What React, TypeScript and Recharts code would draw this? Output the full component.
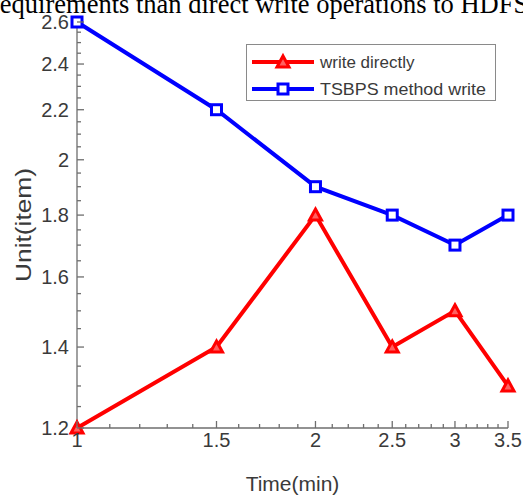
import { LineChart, Line, XAxis, YAxis, Legend } from "recharts";

const times = [1, 1.5, 2, 2.5, 3, 3.5];
const writeDirectly = [1.2, 1.4, 1.8, 1.4, 1.5, 1.3];
const tsbpsWrite = [2.6, 2.2, 1.9, 1.8, 1.7, 1.8];

const xMajor = [1, 1.5, 2, 2.5, 3, 3.5];
const xMinor = [1.1, 1.2, 1.3, 1.4, 1.6, 1.7, 1.8, 1.9, 2.1, 2.2, 2.3, 2.4, 2.6, 2.7, 2.8, 2.9, 3.1, 3.2, 3.3, 3.4];
const yMajor = [1.2, 1.4, 1.6, 1.8, 2, 2.2, 2.4, 2.6];
const yMinor = [1.25, 1.3, 1.35, 1.45, 1.5, 1.55, 1.65, 1.7, 1.75, 1.85, 1.9, 1.95, 2.05, 2.1, 2.15, 2.25, 2.3, 2.35, 2.45, 2.5, 2.55];

const xTicks = [...xMajor, ...xMinor].sort((a, b) => a - b);
const yTicks = [...yMajor, ...yMinor].sort((a, b) => a - b);

const data = times.map((t, i) => ({
  time: t,
  direct: writeDirectly[i],
  tsbps: tsbpsWrite[i],
}));

const AXIS = "#6e6e6e";
const TEXT = "#3a3a3a";
const RED = "#ff0000";
const BLUE = "#0000ff";
const FONT = "'Liberation Sans', Arial, sans-serif";

// eslint-disable-next-line @typescript-eslint/no-explicit-any
function BottomTick({ x, y, payload }: any) {
  const major = xMajor.includes(payload.value);
  return (
    <g>
      <line x1={x} x2={x} y1={y} y2={y - (major ? 7 : 4)} stroke={AXIS} strokeWidth={1.3} />
      {major && (
        <text x={x} y={y + 19} textAnchor="middle" fontSize={20} fill={TEXT} fontFamily={FONT}>
          {payload.value}
        </text>
      )}
    </g>
  );
}

// eslint-disable-next-line @typescript-eslint/no-explicit-any
function TopTick({ x, y, payload }: any) {
  const major = xMajor.includes(payload.value);
  return <line x1={x} x2={x} y1={y} y2={y + (major ? 7 : 4)} stroke={AXIS} strokeWidth={1.3} />;
}

// eslint-disable-next-line @typescript-eslint/no-explicit-any
function LeftTick({ x, y, payload }: any) {
  const major = yMajor.includes(payload.value);
  return (
    <g>
      <line x1={x} x2={x + (major ? 7 : 4)} y1={y} y2={y} stroke={AXIS} strokeWidth={1.3} />
      {major && (
        <text x={x - 8} y={y + 7} textAnchor="end" fontSize={20} fill={TEXT} fontFamily={FONT}>
          {payload.value}
        </text>
      )}
    </g>
  );
}

// eslint-disable-next-line @typescript-eslint/no-explicit-any
function RightTick({ x, y, payload }: any) {
  const major = yMajor.includes(payload.value);
  return <line x1={x} x2={x - (major ? 7 : 4)} y1={y} y2={y} stroke={AXIS} strokeWidth={1.3} />;
}

// eslint-disable-next-line @typescript-eslint/no-explicit-any
function TriangleDot({ cx, cy, index }: any) {
  if (cx == null || cy == null) return <g key={`t-${index}`} />;
  return (
    <path
      key={`t-${index}`}
      d={`M${cx},${cy - 6} L${cx + 6},${cy + 5} L${cx - 6},${cy + 5} Z`}
      fill="#ff6060"
      stroke={RED}
      strokeWidth={3}
      strokeLinejoin="miter"
    />
  );
}

// eslint-disable-next-line @typescript-eslint/no-explicit-any
function SquareDot({ cx, cy, index }: any) {
  if (cx == null || cy == null) return <g key={`s-${index}`} />;
  return (
    <rect
      key={`s-${index}`}
      x={cx - 5}
      y={cy - 5}
      width={10}
      height={10}
      fill="#ffffff"
      stroke={BLUE}
      strokeWidth={3}
    />
  );
}

function LegendBox() {
  return (
    <div
      style={{
        width: 250,
        height: 57,
        border: "1px solid #8a8a8a",
        background: "#fff",
        boxSizing: "border-box",
        position: "relative",
      }}
    >
      <svg width={250} height={57} style={{ position: "absolute", left: 0, top: 0 }}>
        <line x1={5} x2={67} y1={17} y2={17} stroke={RED} strokeWidth={4} />
        <path d="M36,11 L42,22 L30,22 Z" fill="#ff6060" stroke={RED} strokeWidth={3} />
        <text x={73} y={23} fontSize={17} fill={TEXT} fontFamily={FONT}>
          write directly
        </text>
        <line x1={5} x2={67} y1={44} y2={44} stroke={BLUE} strokeWidth={4} />
        <rect x={31} y={39} width={10} height={10} fill="#fff" stroke={BLUE} strokeWidth={3} />
        <text x={73} y={50} fontSize={17} fill={TEXT} fontFamily={FONT} textLength={166} lengthAdjust="spacingAndGlyphs">
          TSBPS method write
        </text>
      </svg>
    </div>
  );
}

export default function App() {
  return (
    <div
      style={{
        position: "absolute",
        left: 0,
        top: 0,
        width: 523,
        height: 499,
        overflow: "hidden",
        background: "#fff",
      }}
    >
      <div
        style={{
          position: "absolute",
          left: -9,
          top: -11,
          whiteSpace: "nowrap",
          fontFamily: "'Liberation Serif', 'Times New Roman', serif",
          fontSize: 26.5,
          lineHeight: "30px",
          color: "#000",
        }}
      >
        requirements than direct write operations to HDFS
      </div>
      <LineChart
        width={523}
        height={499}
        data={data}
        margin={{ top: 22, right: 15, bottom: 0, left: 0 }}
      >
        <XAxis
          xAxisId="top"
          orientation="top"
          dataKey="time"
          type="number"
          scale="log"
          domain={[1, 3.5]}
          ticks={xTicks}
          interval={0}
          height={0}
          tickSize={0}
          tickMargin={0}
          tickLine={false}
          tick={<TopTick />}
          axisLine={{ stroke: AXIS, strokeWidth: 1.3 }}
          allowDataOverflow
        />
        <XAxis
          xAxisId="x"
          dataKey="time"
          type="number"
          scale="log"
          domain={[1, 3.5]}
          ticks={xTicks}
          interval={0}
          height={71}
          tickSize={0}
          tickMargin={0}
          tickLine={false}
          tick={<BottomTick />}
          axisLine={{ stroke: AXIS, strokeWidth: 1.3 }}
          label={{
            content: ({ viewBox }: any) => (
              <text
                x={viewBox.x + viewBox.width / 2}
                y={viewBox.y + 63}
                textAnchor="middle"
                fontSize={21}
                fill={TEXT}
                fontFamily={FONT}
              >
                Time(min)
              </text>
            ),
          }}
        />
        <YAxis
          yAxisId="right"
          orientation="right"
          type="number"
          scale="log"
          domain={[1.2, 2.6]}
          ticks={yTicks}
          interval={0}
          width={0}
          tickSize={0}
          tickMargin={0}
          tickLine={false}
          tick={<RightTick />}
          axisLine={{ stroke: AXIS, strokeWidth: 1.3 }}
          allowDataOverflow
        />
        <YAxis
          yAxisId="y"
          type="number"
          scale="log"
          domain={[1.2, 2.6]}
          ticks={yTicks}
          interval={0}
          width={77}
          tickSize={0}
          tickMargin={0}
          tickLine={false}
          tick={<LeftTick />}
          axisLine={{ stroke: AXIS, strokeWidth: 1.3 }}
          label={{
            content: ({ viewBox }: any) => {
              const cx = 23;
              const cy = viewBox.y + viewBox.height / 2;
              return (
                <text
                  x={cx}
                  y={cy}
                  dy={8}
                  textAnchor="middle"
                  transform={`rotate(-90, ${cx}, ${cy})`}
                  fontSize={22}
                  fill={TEXT}
                  fontFamily={FONT}
                  textLength={114}
                  lengthAdjust="spacingAndGlyphs"
                >
                  Unit(item)
                </text>
              );
            },
          }}
        />
        <Legend
          layout="horizontal"
          verticalAlign="middle"
          align="center"
          content={() => <LegendBox />}
          wrapperStyle={{ position: "absolute", left: 246, top: 44, width: 250, height: 57 }}
        />
        <Line
          xAxisId="x"
          yAxisId="y"
          type="linear"
          dataKey="direct"
          name="write directly"
          stroke={RED}
          strokeWidth={4}
          dot={<TriangleDot />}
          activeDot={false}
          isAnimationActive={false}
        />
        <Line
          xAxisId="x"
          yAxisId="y"
          type="linear"
          dataKey="tsbps"
          name="TSBPS method write"
          stroke={BLUE}
          strokeWidth={4}
          dot={<SquareDot />}
          activeDot={false}
          isAnimationActive={false}
        />
      </LineChart>
    </div>
  );
}
